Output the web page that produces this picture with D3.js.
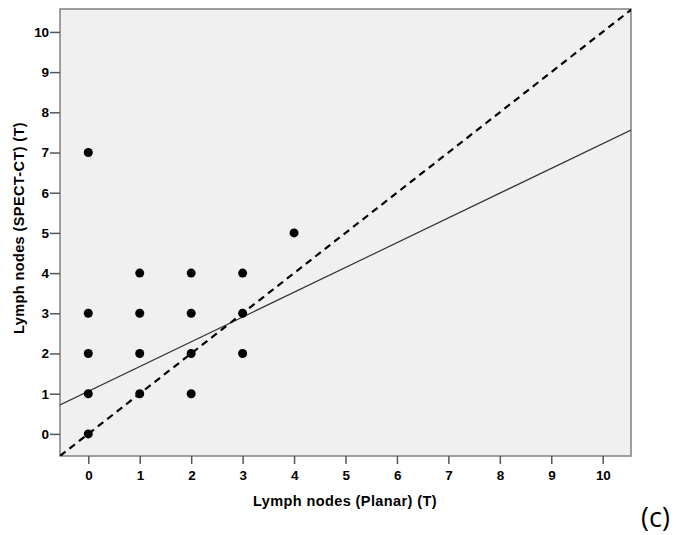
<!DOCTYPE html>
<html><head><meta charset="utf-8">
<script src="https://cdn.jsdelivr.net/npm/d3@7"></script>
<style>body{margin:0;background:#fff}svg{display:block}</style>
</head><body>
<script>
const xTicks = [0,1,2,3,4,5,6,7,8,9,10];
const yTicks = [0,1,2,3,4,5,6,7,8,9,10];
const pointsX = [0,0,0,0,0,1,1,1,1,2,2,2,2,3,3,3,4];
const pointsY = [7,3,2,1,0,4,3,2,1,4,3,2,1,4,3,2,5];
const fitIntercept = 1.06, fitSlope = 0.616;
const xLabel = "Lymph nodes (Planar) (T)";
const yLabel = "Lymph nodes (SPECT-CT) (T)";
const panelLabel = "(c)";

const W = 678, H = 535;
const svg = d3.select("body").append("svg").attr("width", W).attr("height", H);
const L = 60, R = 631, T = 9, B = 456;
const x = d3.scaleLinear().domain([-0.55, 10.55]).range([L, R]);
const y = d3.scaleLinear().domain([-0.55, 10.57]).range([B, T]);

svg.append("rect").attr("x", L).attr("y", T).attr("width", R-L).attr("height", B-T)
  .attr("fill", "#f0f0f0").attr("stroke", "#808080").attr("stroke-width", 1.5);

svg.append("clipPath").attr("id","c").append("rect").attr("x",L).attr("y",T).attr("width",R-L).attr("height",B-T);
const g = svg.append("g").attr("clip-path","url(#c)");

const xd = x.domain();
g.append("line").attr("x1", x(xd[0])).attr("y1", y(fitIntercept + fitSlope*xd[0]))
  .attr("x2", x(xd[1])).attr("y2", y(fitIntercept + fitSlope*xd[1]))
  .attr("stroke", "#333").attr("stroke-width", 1.2);
g.append("line").attr("x1", x(-0.55)).attr("y1", y(-0.55))
  .attr("x2", x(10.57)).attr("y2", y(10.57))
  .attr("stroke", "#000").attr("stroke-width", 2.2).attr("stroke-dasharray", "7,5");

g.selectAll("circle").data(pointsX.map((v,i)=>[v,pointsY[i]])).join("circle")
  .attr("cx", d=>x(d[0])).attr("cy", d=>y(d[1])).attr("r", 4.5).attr("fill", "#000");

const xa = svg.append("g").attr("transform", `translate(0,${B})`)
  .call(d3.axisBottom(x).tickValues(xTicks).tickSize(8).tickPadding(6));
const ya = svg.append("g").attr("transform", `translate(${L},0)`)
  .call(d3.axisLeft(y).tickValues(yTicks).tickSize(10).tickPadding(1.5));
[xa, ya].forEach(a => {
  a.select(".domain").remove();
  a.selectAll(".tick line").attr("stroke", "#555").attr("stroke-width", 1.5);
  a.selectAll(".tick text").attr("font-family", "Liberation Sans, Arial, sans-serif")
    .attr("font-weight", "bold").attr("font-size", 13.5).attr("letter-spacing", -0.4).attr("fill", "#000");
});

svg.append("text").attr("x", 345).attr("y", 506).attr("text-anchor", "middle")
  .attr("font-family", "Liberation Sans, Arial, sans-serif").attr("font-weight", "bold")
  .attr("font-size", 14.5).attr("letter-spacing", 0.4).text(xLabel);
svg.append("text").attr("transform", `translate(24,228) rotate(-90)`).attr("text-anchor", "middle")
  .attr("font-family", "Liberation Sans, Arial, sans-serif").attr("font-weight", "bold")
  .attr("font-size", 14.5).attr("letter-spacing", 0.4).text(yLabel);
svg.append("text").attr("x", 641).attr("y", 527)
  .attr("font-family", "Open Sans, Liberation Sans, sans-serif").attr("font-size", 27).text(panelLabel);
</script>
</body></html>
